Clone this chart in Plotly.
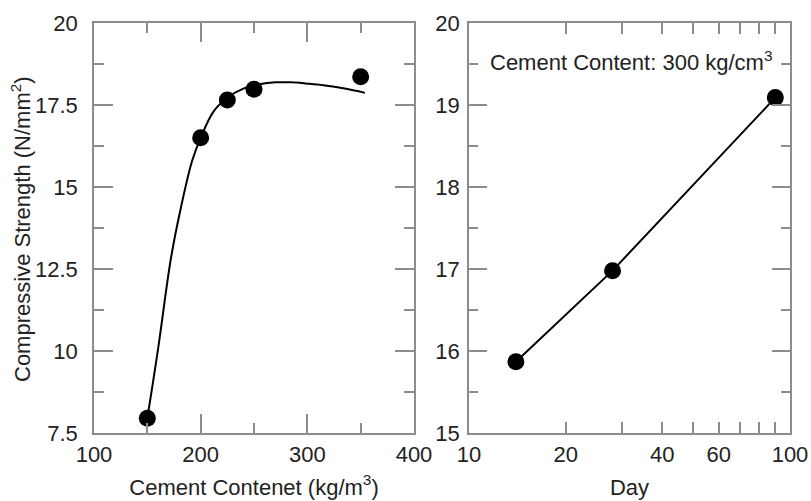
import plotly.graph_objects as go

# Left panel data: compressive strength vs cement content
cement_content = [150, 200, 225, 250, 350]
strength_cc = [7.95, 16.5, 17.65, 17.98, 18.36]

# Fitted curve
fit_x = [150, 160, 172, 181, 192, 200, 212, 225, 240, 255, 270, 285, 300, 315, 335, 354]
fit_y = [7.95, 10.05, 12.8, 14.3, 15.8, 16.5, 17.3, 17.72, 18.0, 18.13, 18.19, 18.19, 18.15, 18.1, 18.0, 17.87]

# Right panel data: strength vs day
days = [14, 28, 90]
strength_day = [15.87, 16.98, 19.09]

left_xticks = [100, 200, 300, 400]
left_yticks = [7.5, 10, 12.5, 15, 17.5, 20]
right_xticks = [10, 20, 40, 60, 100]
right_xminor = [30, 50, 70, 80, 90]
right_yticks = [15, 16, 17, 18, 19, 20]

FONT = "Liberation Sans, Arial, sans-serif"
TXT = "#222222"
AX = "#8c8c8c"
FS = 22

fig = go.Figure()
fig.add_trace(go.Scatter(x=fit_x, y=fit_y, mode="lines", line=dict(color="black", width=2, shape="spline", smoothing=1.0),
                         xaxis="x", yaxis="y", showlegend=False, hoverinfo="skip"))
fig.add_trace(go.Scatter(x=cement_content, y=strength_cc, mode="markers", marker=dict(color="black", size=17),
                         xaxis="x", yaxis="y", showlegend=False))
fig.add_trace(go.Scatter(x=days, y=strength_day, mode="lines+markers", line=dict(color="black", width=2),
                         marker=dict(color="black", size=17), xaxis="x2", yaxis="y2", showlegend=False))

common = dict(showline=True, linecolor=AX, linewidth=1.5, mirror="ticks", ticks="inside",
              tickcolor=AX, tickwidth=1.5, showgrid=False, zeroline=False, automargin=False,
              tickfont=dict(family=FONT, size=FS, color=TXT))

fig.update_layout(
    width=811, height=501, margin=dict(l=0, r=0, t=0, b=0),
    paper_bgcolor="white", plot_bgcolor="white",
    font=dict(family=FONT, size=FS, color=TXT),
    xaxis=dict(domain=[94/811, 414/811], range=[100, 400], tickvals=left_xticks,
               ticklen=19, minor=dict(ticks="inside", ticklen=10, dtick=50, tick0=100, tickcolor=AX, tickwidth=1.5, showgrid=False),
               ticklabelstandoff=1,
               title=dict(text="Cement Contenet (kg/m<sup>3</sup>)", font=dict(family=FONT, size=FS, color=TXT), standoff=13),
               anchor="y", **common),
    yaxis=dict(domain=[1-433/501, 1-23/501], range=[7.5, 20], tickvals=left_yticks,
               ticktext=[str(v) for v in left_yticks],
               ticklen=19, minor=dict(ticks="inside", ticklen=10, dtick=1.25, tick0=7.5, tickcolor=AX, tickwidth=1.5, showgrid=False),
               ticklabelstandoff=10,
               anchor="x", **common),
    xaxis2=dict(domain=[469/811, 790/811], type="log", range=[1, 2], tickvals=right_xticks,
                ticktext=[str(v) for v in right_xticks],
                ticklen=11, minor=dict(ticks="inside", ticklen=11, tickvals=right_xminor, tickcolor=AX, tickwidth=1.5, showgrid=False),
                ticklabelstandoff=1,
                title=dict(text="Day", font=dict(family=FONT, size=FS, color=TXT), standoff=13),
                anchor="y2", **common),
    yaxis2=dict(domain=[1-433/501, 1-23/501], range=[15, 20], tickvals=right_yticks,
                ticklen=18, minor=dict(ticks="inside", ticklen=9, dtick=0.5, tick0=15, tickcolor=AX, tickwidth=1.5, showgrid=False),
                ticklabelstandoff=3,
                anchor="x2", **common),
    annotations=[
        dict(text="Cement Content: 300 kg/cm<sup>3</sup>", xref="paper", yref="paper",
             x=631/811, y=1-61/501, xanchor="center", yanchor="middle", showarrow=False,
             font=dict(family=FONT, size=FS, color=TXT)),
        dict(text="Compressive Strength (N/mm<sup>2</sup>)", xref="paper", yref="paper",
             x=21/811, y=1-229/501, xanchor="center", yanchor="middle", showarrow=False, textangle=-90,
             font=dict(family=FONT, size=FS, color=TXT)),
    ],
)

fig.write_html("out.html")
